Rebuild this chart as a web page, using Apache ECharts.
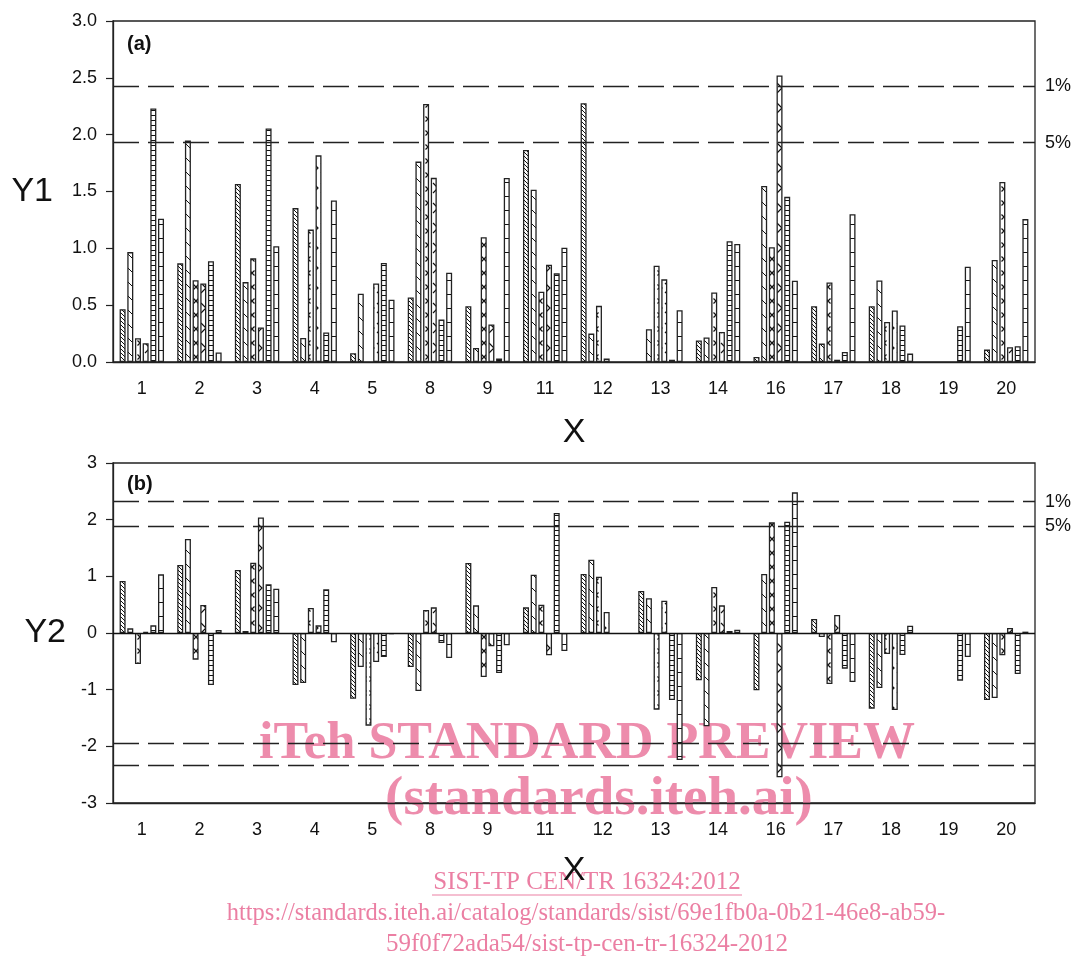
<!DOCTYPE html>
<html><head><meta charset="utf-8">
<script src="https://cdn.jsdelivr.net/npm/echarts@6/dist/echarts.min.js"></script>
<style>html,body{margin:0;padding:0;background:#fff}#c{width:1075px;height:960px}</style>
</head><body><div id="c"></div>
<script>
const categories = ['1','2','3','4','5','8','9','11','12','13','14','16','17','18','19','20'];
// Panel (a) Y1 values, six series per category
const a1 = [0.465,0.868,1.566,1.354,0.077,0.568,0.49,1.866,2.277,null,0.19,0.044,0.49,0.49,null,0.109];
const a2 = [0.967,1.948,0.703,0.212,0.60,1.763,0.124,1.515,0.25,0.289,0.215,1.548,0.162,0.718,null,0.897];
const a3 = [0.209,0.72,0.912,1.165,null,2.27,1.098,0.618,0.494,0.847,0.612,1.009,0.70,0.353,null,1.583];
const a4 = [0.165,0.69,0.303,1.818,0.69,1.62,0.33,0.856,0.03,0.727,0.265,2.52,0.02,0.454,null,0.13];
const a5 = [2.23,0.886,2.054,0.259,0.871,0.374,0.03,0.78,null,0.02,1.062,1.453,0.088,0.321,0.315,0.138];
const a6 = [1.26,0.083,1.018,1.421,0.547,0.786,1.619,1.006,null,0.456,1.039,0.715,1.30,0.074,0.838,1.257];
// Panel (b) Y2 values
const b1 = [0.918,1.2,1.112,-0.918,-1.159,-0.6,1.235,0.453,1.041,0.741,-0.835,-1.012,0.247,-1.335,null,-1.182];
const b2 = [0.082,1.659,0.035,-0.882,-0.6,-1.024,0.488,1.029,1.294,0.612,-1.647,1.041,-0.07,-0.97,null,-1.147];
const b3 = [-0.547,-0.47,1.241,0.441,-1.635,0.406,-0.776,0.5,0.994,-1.353,0.812,1.953,-0.9,-0.37,null,-0.394];
const b4 = [0.018,0.494,2.04,0.135,-0.512,0.453,-0.235,-0.394,0.371,0.571,0.488,-2.547,0.318,-1.359,null,0.088];
const b5 = [0.135,-0.918,0.859,0.771,-0.424,-0.176,-0.706,2.118,null,-1.182,0.035,1.965,-0.629,-0.388,-0.841,-0.724];
const b6 = [1.035,0.053,0.782,-0.165,-0.02,-0.44,-0.218,-0.318,null,-2.24,0.059,2.482,-0.865,0.129,-0.424,0.024];
// significance thresholds
const aLevels = [{v:2.43,t:'1%'},{v:1.93,t:'5%'}];
const bLevels = [{v:2.32,t:'1%'},{v:1.875,t:'5%'},{v:-1.94,t:''},{v:-2.33,t:''}];

function mk(w,h,draw){
  const c=document.createElement('canvas');c.width=w;c.height=h;
  const g=c.getContext('2d');g.fillStyle='#fff';g.fillRect(0,0,w,h);
  g.strokeStyle='#111';g.lineWidth=1;draw(g,w,h);return c;
}
const pats = [
  mk(4,4,(g)=>{g.beginPath();g.moveTo(-1,-1);g.lineTo(5,5);g.moveTo(-1,3);g.lineTo(1,5);g.moveTo(3,-1);g.lineTo(5,1);g.stroke();}),
  mk(14,14,(g)=>{g.beginPath();g.moveTo(-1,-1);g.lineTo(15,15);g.moveTo(-1,13);g.lineTo(1,15);g.moveTo(13,-1);g.lineTo(15,1);g.stroke();}),
  mk(8,14,(g)=>{g.lineWidth=1.2;g.beginPath();g.moveTo(1.5,4.5);g.lineTo(6.5,9.5);g.moveTo(6.5,4.5);g.lineTo(1.5,9.5);g.stroke();}),
  mk(8,20,(g)=>{g.lineWidth=1.2;g.beginPath();g.moveTo(1,3);g.lineTo(6,8);g.lineTo(1,13);g.stroke();}),
  mk(8,5,(g)=>{g.beginPath();g.moveTo(0,0.5);g.lineTo(8,0.5);g.stroke();}),
  mk(8,14,(g)=>{g.beginPath();g.moveTo(0,0.5);g.lineTo(8,0.5);g.stroke();})
];

const FONT='Liberation Sans';
function mkSeries(arr, idx, xi, extra){
  const s={type:'bar',data:arr,xAxisIndex:xi,yAxisIndex:xi,barWidth:6,barGap:'28%',barCategoryGap:'22%',
    itemStyle:{color:{image:pats[idx],repeat:'repeat'},borderColor:'#222',borderWidth:1.3},
    emphasis:{disabled:true},silent:true};
  if(extra) s.markLine=extra;
  return s;
}
function levelLines(levels, zero){
  const data=levels.map(l=>({yAxis:l.v,label:{show:!!l.t,formatter:l.t}}));
  if(zero) data.push({yAxis:0,lineStyle:{type:'solid',width:1.3,color:'#111'},label:{show:false}});
  return {symbol:'none',silent:true,animation:false,
    lineStyle:{type:[26,9],width:1.4,color:'#222'},
    label:{position:'end',distance:10,fontSize:18,fontFamily:FONT,color:'#111'},
    data:data};
}
function xAx(gi){
  return {type:'category',gridIndex:gi,data:categories,
    name:'X',nameLocation:'middle',nameGap:gi===0?54:51,
    nameTextStyle:{fontSize:34,fontFamily:FONT,color:'#111'},
    axisLine:{onZero:false,lineStyle:{color:'#222',width:1.3}},
    axisTick:{alignWithLabel:true,length:7,lineStyle:{color:'#222',width:1.2}},
    axisLabel:{fontSize:18,fontFamily:FONT,color:'#111',margin:18},
    splitLine:{show:false}};
}
function yAx(gi,min,max,iv,name,gap,fmt){
  return {type:'value',gridIndex:gi,min:min,max:max,interval:iv,name:name,nameLocation:'middle',nameGap:gap,nameRotate:0,
     nameTextStyle:{fontSize:34,fontFamily:FONT,color:'#111'},
     axisLine:{show:true,lineStyle:{color:'#222',width:1.3}},axisTick:{show:true,length:7,lineStyle:{color:'#222',width:1.2}},
     axisLabel:{fontSize:18,fontFamily:FONT,color:'#111',margin:16,formatter:fmt},splitLine:{show:false}};
}
const option={
  animation:false,
  grid:[{left:113,top:21,width:922,height:341,show:true,borderColor:'#222',borderWidth:1.3,containLabel:false,outerBoundsMode:'none'},
        {left:113,top:463,width:922,height:340,show:true,borderColor:'#222',borderWidth:1.3,containLabel:false,outerBoundsMode:'none'}],
  xAxis:[xAx(0),xAx(1)],
  yAxis:[yAx(0,0,3,0.5,'Y1',60,v=>v.toFixed(1)), yAx(1,-3,3,1,'Y2',47,v=>String(v))],
  series:[
    mkSeries(a1,0,0,levelLines(aLevels,false)),mkSeries(a2,1,0),mkSeries(a3,2,0),mkSeries(a4,3,0),mkSeries(a5,4,0),mkSeries(a6,5,0),
    mkSeries(b1,0,1,levelLines(bLevels,true)),mkSeries(b2,1,1),mkSeries(b3,2,1),mkSeries(b4,3,1),mkSeries(b5,4,1),mkSeries(b6,5,1)
  ],
  graphic:[
    {type:'text',left:127,top:34,style:{text:'(a)',font:'bold 20px "Liberation Sans"',fill:'#111'}},
    {type:'text',left:127,top:474,style:{text:'(b)',font:'bold 20px "Liberation Sans"',fill:'#111'}},
    {type:'group',z:100,children:[
      {type:'text',x:587,y:745,style:{text:'iTeh STANDARD PREVIEW',font:'bold 52px "Liberation Serif"',fill:'rgba(234,120,158,0.85)',align:'center',verticalAlign:'middle'}},
      {type:'text',x:599,y:800,style:{text:'(standards.iteh.ai)',font:'bold 55px "Liberation Serif"',fill:'rgba(234,120,158,0.85)',align:'center',verticalAlign:'middle'}},
      {type:'text',x:587,y:882,style:{text:'SIST-TP CEN/TR 16324:2012',font:'25px "Liberation Serif"',fill:'rgba(234,120,158,0.95)',align:'center',verticalAlign:'middle'}},
      {type:'line',shape:{x1:432,y1:895,x2:742,y2:895},style:{stroke:'rgba(234,120,158,0.95)',lineWidth:1.2}},
      {type:'text',x:586,y:914,style:{text:'https://standards.iteh.ai/catalog/standards/sist/69e1fb0a-0b21-46e8-ab59-',font:'24.5px "Liberation Serif"',fill:'rgba(234,120,158,0.95)',align:'center',verticalAlign:'middle'}},
      {type:'text',x:587,y:944,style:{text:'59f0f72ada54/sist-tp-cen-tr-16324-2012',font:'25px "Liberation Serif"',fill:'rgba(234,120,158,0.95)',align:'center',verticalAlign:'middle'}}
    ]}
  ]
};
const chart=echarts.init(document.getElementById('c'),null,{renderer:'canvas'});
chart.setOption(option);
</script></body></html>
